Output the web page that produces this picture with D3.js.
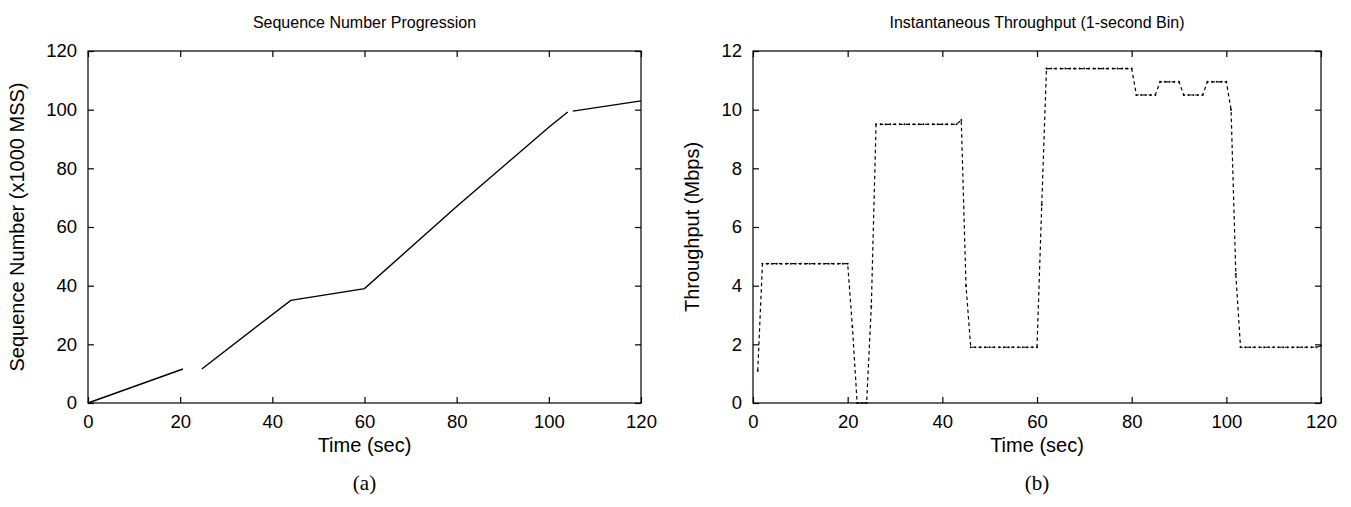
<!DOCTYPE html>
<html>
<head>
<meta charset="utf-8">
<script src="https://cdn.jsdelivr.net/npm/d3@7"></script>
<style>
  body { margin: 0; background: #fff; }
  text { font-family: "Liberation Sans", Arial, sans-serif; fill: #000; }
</style>
</head>
<body>
<div id="viz"></div>
<script>
// (a) sequence number, x1000 MSS ; null = gap in the trace
var seqTime = [0, 20.6, null, 24.7, 44, 60, 80, 100, 104.1, null, 105.2, 120];
var seqVal  = [0, 11.6, null, 11.6, 35, 39, 67, 94, 99.2, null, 99.5, 103];

// (b) throughput per 1-second bin, Mbps
var binTime = d3.range(1, 121);
var binVal = [
  1.1, 4.75, 4.75, 4.75, 4.75, 4.75, 4.75, 4.75, 4.75, 4.75,
  4.75, 4.75, 4.75, 4.75, 4.75, 4.75, 4.75, 4.75, 4.75, 4.75,
  2.6, 0, 0, 0, 3.3, 9.5, 9.5, 9.5, 9.5, 9.5,
  9.5, 9.5, 9.5, 9.5, 9.5, 9.5, 9.5, 9.5, 9.5, 9.5,
  9.5, 9.5, 9.5, 9.65, 4.0, 1.9, 1.9, 1.9, 1.9, 1.9,
  1.9, 1.9, 1.9, 1.9, 1.9, 1.9, 1.9, 1.9, 1.9, 1.9,
  6.75, 11.4, 11.4, 11.4, 11.4, 11.4, 11.4, 11.4, 11.4, 11.4,
  11.4, 11.4, 11.4, 11.4, 11.4, 11.4, 11.4, 11.4, 11.4, 11.4,
  10.5, 10.5, 10.5, 10.5, 10.5, 10.95, 10.95, 10.95, 10.95, 10.95,
  10.5, 10.5, 10.5, 10.5, 10.5, 10.95, 10.95, 10.95, 10.95, 10.95,
  10.0, 4.4, 1.9, 1.9, 1.9, 1.9, 1.9, 1.9, 1.9, 1.9,
  1.9, 1.9, 1.9, 1.9, 1.9, 1.9, 1.9, 1.9, 1.9, 1.95
];

var xTicks = [0, 20, 40, 60, 80, 100, 120];
var seqTicks = [0, 20, 40, 60, 80, 100, 120];
var tputTicks = [0, 2, 4, 6, 8, 10, 12];

var svg = d3.select("#viz").append("svg")
    .attr("width", 1351)
    .attr("height", 507);

function panel(opt) {
    var x = d3.scaleLinear().domain([0, 120]).range([opt.left, opt.right]);
    var y = d3.scaleLinear().domain(opt.yDomain).range([403, 51]);
    var g = svg.append("g");
    var tl = 6;

    g.append("g").attr("transform", "translate(0,403)")
        .call(d3.axisBottom(x).tickValues(xTicks).tickSizeInner(-tl).tickSizeOuter(0).tickPadding(12))
        .call(style);
    g.append("g").attr("transform", "translate(0,51)")
        .call(d3.axisTop(x).tickValues(xTicks).tickSizeInner(-tl).tickSizeOuter(0).tickFormat(""))
        .call(style);
    g.append("g").attr("transform", "translate(" + opt.left + ",0)")
        .call(d3.axisLeft(y).tickValues(opt.yTicks).tickSizeInner(-tl).tickSizeOuter(0).tickPadding(11))
        .call(style);
    g.append("g").attr("transform", "translate(" + opt.right + ",0)")
        .call(d3.axisRight(y).tickValues(opt.yTicks).tickSizeInner(-tl).tickSizeOuter(0).tickFormat(""))
        .call(style);

    g.append("rect")
        .attr("x", opt.left).attr("y", 51)
        .attr("width", opt.right - opt.left).attr("height", 352)
        .attr("fill", "none").attr("stroke", "#000").attr("stroke-width", 1.2);

    var cx = (opt.left + opt.right) / 2;
    g.append("text").attr("x", cx).attr("y", 28)
        .attr("text-anchor", "middle").style("font-size", "16px").text(opt.title);
    g.append("text").attr("x", cx).attr("y", 452)
        .attr("text-anchor", "middle").style("font-size", "20px").text("Time (sec)");
    g.append("text").attr("transform", "translate(" + opt.ylabX + ",227) rotate(-90)")
        .attr("text-anchor", "middle").style("font-size", "20px").text(opt.ylab);
    g.append("text").attr("x", cx).attr("y", 490)
        .attr("text-anchor", "middle")
        .style("font-family", "'Liberation Serif', 'Times New Roman', serif")
        .style("font-size", "21px").text(opt.caption);

    return { x: x, y: y, g: g };
}

function style(sel) {
    sel.select(".domain").remove();
    sel.selectAll(".tick line").attr("stroke", "#000").attr("stroke-width", 1.2);
    sel.selectAll(".tick text").style("font-size", "18.5px")
        .style("font-family", "'Liberation Sans', Arial, sans-serif");
}

// panel (a)
var a = panel({
    left: 88, right: 641, yDomain: [0, 120], yTicks: seqTicks,
    title: "Sequence Number Progression",
    ylab: "Sequence Number (x1000 MSS)", ylabX: 24, caption: "(a)"
});
var seqData = seqTime.map(function (t, i) { return { t: t, v: seqVal[i] }; });
a.g.append("path")
    .datum(seqData)
    .attr("fill", "none").attr("stroke", "#000").attr("stroke-width", 1.4)
    .attr("d", d3.line()
        .defined(function (d) { return d.t !== null; })
        .x(function (d) { return a.x(d.t); })
        .y(function (d) { return a.y(d.v); }));

// panel (b)
var b = panel({
    left: 753, right: 1321, yDomain: [0, 12], yTicks: tputTicks,
    title: "Instantaneous Throughput (1-second Bin)",
    ylab: "Throughput (Mbps)", ylabX: 699, caption: "(b)"
});
var binData = binTime.map(function (t, i) { return { t: t, v: binVal[i] }; });
b.g.append("path")
    .datum(binData)
    .attr("fill", "none").attr("stroke", "#000").attr("stroke-width", 1.2)
    .attr("stroke-dasharray", "3.5,3")
    .attr("d", d3.line()
        .x(function (d) { return b.x(d.t); })
        .y(function (d) { return b.y(d.v); }));
b.g.selectAll("circle.pt")
    .data(binData)
    .enter().append("circle")
    .attr("class", "pt")
    .attr("cx", function (d) { return b.x(d.t); })
    .attr("cy", function (d) { return b.y(d.v); })
    .attr("r", 1)
    .attr("fill", "#000");
</script>
</body>
</html>
